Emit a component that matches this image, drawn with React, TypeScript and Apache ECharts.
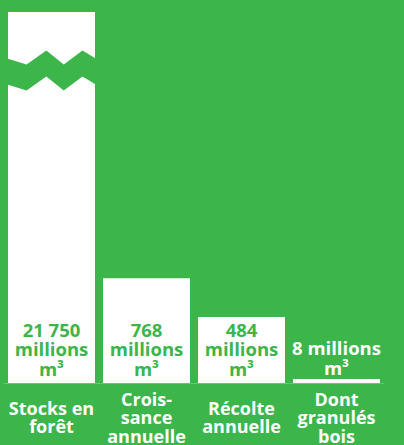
import React, { useEffect, useRef } from "react";
import * as echarts from "echarts";

// ---- data ----
const categories = [
  "Stocks en\nforêt",
  "Crois-\nsance\nannuelle",
  "Récolte\nannuelle",
  "Dont\ngranulés\nbois",
];
const volumes = [21750, 768, 484, 8]; // millions de m³
const unitWord = "millions";
const unitSymbol = "m³";
// axis break (collapsed range of the value axis)
const breakStart = 2200;
const breakEnd = 21420;
const breakGap = 190;

const GREEN = "#3cb54a";
const FONT = "'Open Sans', sans-serif";

const fmt = (v: number) => String(v).replace(/\B(?=(\d{3})+(?!\d))/g, " ");

export default function App() {
  const ref = useRef<HTMLDivElement>(null);
  useEffect(() => {
    document.body.style.margin = "0";
    const chart = echarts.init(ref.current!, null, { renderer: "svg" });
    const data = volumes.map((v) => {
      const inside = v >= 100;
      return {
        value: v,
        label: inside
          ? {
              position: "insideBottom",
              distance: 5,
              color: GREEN,
              formatter: `${fmt(v)}\n${unitWord}\n${unitSymbol}`,
            }
          : {
              position: "top",
              distance: 2,
              color: "#ffffff",
              formatter: `${fmt(v)} ${unitWord}\n${unitSymbol}`,
            },
      };
    });
    chart.setOption({
      animation: false,
      backgroundColor: GREEN,
      grid: { left: 4, right: 20, top: 12, bottom: 62, outerBoundsMode: "none" },
      xAxis: {
        type: "category",
        data: categories,
        axisTick: { show: false },
        axisLine: { show: true, lineStyle: { color: "#66c871", width: 1 } },
        axisLabel: {
          color: "#ffffff",
          fontFamily: FONT,
          fontWeight: "bold",
          fontSize: 18,
          lineHeight: 18.5,
          margin: 34,
          verticalAlign: "middle",
          interval: 0,
        },
      },
      yAxis: {
        type: "value",
        min: 0,
        max: volumes[0],
        axisLine: { show: false },
        axisTick: { show: false },
        axisLabel: { show: false },
        splitLine: { show: false },
        breaks: [{ start: breakStart, end: breakEnd, gap: breakGap }],
        breakArea: {
          show: true,
          expandOnClick: false,
          zigzagAmplitude: 7,
          zigzagMinSpan: 10,
          zigzagMaxSpan: 25,
          zigzagZ: 200,
          itemStyle: { color: GREEN, borderColor: GREEN, borderWidth: 0, opacity: 1 },
        },
      },
      series: [
        {
          type: "bar",
          data,
          barCategoryGap: "8.4%",
          barMinHeight: 4,
          itemStyle: { color: "#ffffff" },
          label: {
            show: true,
            fontFamily: FONT,
            fontWeight: "bold",
            fontSize: 18.5,
            lineHeight: 19.5,
            align: "center",
          },
        },
      ],
    });
    return () => chart.dispose();
  }, []);
  return <div ref={ref} style={{ width: 404, height: 445 }} />;
}
